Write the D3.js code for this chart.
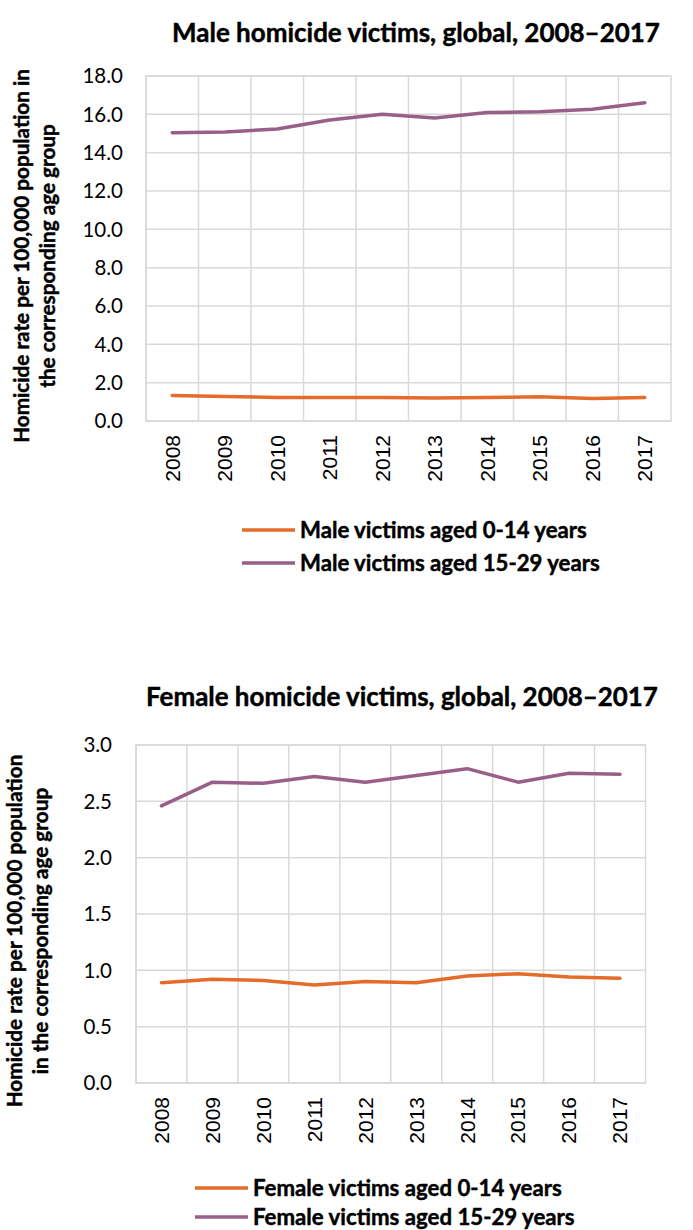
<!DOCTYPE html>
<html>
<head>
<meta charset="utf-8">
<script src="https://cdn.jsdelivr.net/npm/d3@7"></script>
<style>
  body { margin: 0; background: #fff; }
  svg { display: block; }
  .grid line { stroke: #d9d9d9; stroke-width: 1.5px; }
  .frame { fill: none; stroke: #d9d9d9; stroke-width: 1.5px; }
  .ytick { font-family: Lato, "Open Sans", sans-serif; font-size: 20.5px; fill: #000; }
  .xtick { font-family: "Liberation Sans", Arial, sans-serif; font-size: 21px; fill: #000; }
  .bold { font-family: Lato, "Open Sans", sans-serif; font-weight: bold; fill: #000; stroke: #000; stroke-width: 0.45px; }
  .series { fill: none; stroke-width: 3.5px; stroke-linejoin: round; stroke-linecap: round; }
</style>
</head>
<body>
<svg id="chart" width="693" height="1230"></svg>
<script>
// categories
var years = ["2008", "2009", "2010", "2011", "2012", "2013", "2014", "2015", "2016", "2017"];

// male rates per 100,000
var maleAged0to14 = [1.33, 1.28, 1.23, 1.22, 1.22, 1.20, 1.22, 1.27, 1.18, 1.22];
var maleAged15to29 = [15.04, 15.08, 15.23, 15.70, 16.01, 15.81, 16.10, 16.13, 16.26, 16.60];

// female rates per 100,000
var femaleAged0to14 = [0.89, 0.92, 0.91, 0.87, 0.90, 0.89, 0.95, 0.97, 0.94, 0.93];
var femaleAged15to29 = [2.46, 2.67, 2.66, 2.72, 2.67, 2.73, 2.79, 2.67, 2.75, 2.74];

// tick values
var maleTicks = [0, 2, 4, 6, 8, 10, 12, 14, 16, 18];
var femaleTicks = [0, 0.5, 1, 1.5, 2, 2.5, 3];

var colors = { young: "#e46c2a", old: "#9a5f88" };

var svg = d3.select("#chart");

// shrink / grow a text's font so it takes the wanted width
function fitText(sel, width) {
    var size = parseFloat(sel.style("font-size"));
    var len = sel.node().getComputedTextLength();
    sel.style("font-size", (size * width / len) + "px");
    return size * width / len;
}

function drawChart(c) {
    var g = svg.append("g");

    var x = d3.scaleBand().domain(years).range([c.left, c.right]);
    var y = d3.scaleLinear().domain([0, d3.max(c.ticks)]).range([c.bottom, c.top]);

    // horizontal gridlines
    g.append("g").attr("class", "grid")
        .selectAll("line").data(c.ticks).enter().append("line")
        .attr("x1", c.left).attr("x2", c.right)
        .attr("y1", d => y(d)).attr("y2", d => y(d));

    // vertical gridlines between categories
    g.append("g").attr("class", "grid")
        .selectAll("line").data(years).enter().append("line")
        .attr("x1", d => x(d)).attr("x2", d => x(d))
        .attr("y1", c.top).attr("y2", c.bottom);

    g.append("rect").attr("class", "frame")
        .attr("x", c.left).attr("y", c.top)
        .attr("width", c.right - c.left).attr("height", c.bottom - c.top);

    // y axis labels
    g.selectAll(".ytick").data(c.ticks).enter().append("text")
        .attr("class", "ytick")
        .attr("x", c.yLabelX).attr("y", d => y(d))
        .attr("dy", "0.35em")
        .attr("text-anchor", "end")
        .text(d => d3.format(".1f")(d));

    // x axis labels, rotated
    g.selectAll(".xtick").data(years).enter().append("text")
        .attr("class", "xtick")
        .attr("transform", d => "translate(" + (x(d) + x.bandwidth() / 2) + "," + c.xLabelY + ") rotate(-90)")
        .attr("dy", "0.35em")
        .attr("text-anchor", "end")
        .text(d => d);

    var line = d3.line()
        .x((d, i) => x(years[i]) + x.bandwidth() / 2)
        .y(d => y(d));

    c.series.forEach(function (s) {
        g.append("path").attr("class", "series")
            .attr("stroke", s.color)
            .attr("d", line(s.values));
    });

    // title
    var t = g.append("text").attr("class", "bold")
        .attr("x", c.titleX).attr("y", c.titleY)
        .attr("text-anchor", "middle")
        .style("font-size", "22px")
        .text(c.title);
    fitText(t, c.titleWidth);

    // y axis title, two lines
    var first = g.append("text").attr("class", "bold")
        .attr("transform", "translate(" + c.yTitleX[0] + "," + c.yTitleY + ") rotate(-90)")
        .attr("text-anchor", "middle")
        .style("font-size", "18px")
        .text(c.yTitle[0]);
    var fs = fitText(first, c.yTitleWidth);
    g.append("text").attr("class", "bold")
        .attr("transform", "translate(" + c.yTitleX[1] + "," + c.yTitleY + ") rotate(-90)")
        .attr("text-anchor", "middle")
        .style("font-size", fs + "px")
        .text(c.yTitle[1]);

    // legend
    var lg = g.selectAll(".legend").data(c.series).enter().append("g")
        .attr("transform", (d, i) => "translate(" + c.legendX + "," + c.legendY[i] + ")");
    lg.append("line")
        .attr("x1", 0).attr("x2", 53)
        .attr("stroke", d => d.color)
        .attr("stroke-width", 3.5);
    var lt = lg.append("text").attr("class", "bold")
        .attr("x", 58).attr("dy", "0.35em")
        .style("font-size", "20px")
        .text(d => d.name);
    var lfs = fitText(d3.select(lt.nodes()[0]), c.legendWidth);
    lt.style("font-size", lfs + "px");
}

drawChart({
    left: 146, right: 671, top: 76, bottom: 421,
    ticks: maleTicks,
    yLabelX: 123, xLabelY: 435,
    title: "Male homicide victims, global, 2008\u20132017",
    titleX: 416, titleY: 42, titleWidth: 488,
    yTitle: ["Homicide rate per 100,000 population in", "the corresponding age group"],
    yTitleX: [29, 55], yTitleY: 256, yTitleWidth: 374,
    legendX: 242, legendY: [530, 563], legendWidth: 287,
    series: [
        { name: "Male victims aged 0-14 years", values: maleAged0to14, color: colors.young },
        { name: "Male victims aged 15-29 years", values: maleAged15to29, color: colors.old }
    ]
});

drawChart({
    left: 136, right: 645.5, top: 745, bottom: 1083,
    ticks: femaleTicks,
    yLabelX: 112, xLabelY: 1097,
    title: "Female homicide victims, global, 2008\u20132017",
    titleX: 402, titleY: 706, titleWidth: 512,
    yTitle: ["Homicide rate per 100,000 population", "in the corresponding age group"],
    yTitleX: [22, 48], yTitleY: 931, yTitleWidth: 353,
    legendX: 195, legendY: [1188, 1217], legendWidth: 309,
    series: [
        { name: "Female victims aged 0-14 years", values: femaleAged0to14, color: colors.young },
        { name: "Female victims aged 15-29 years", values: femaleAged15to29, color: colors.old }
    ]
});
</script>
</body>
</html>
